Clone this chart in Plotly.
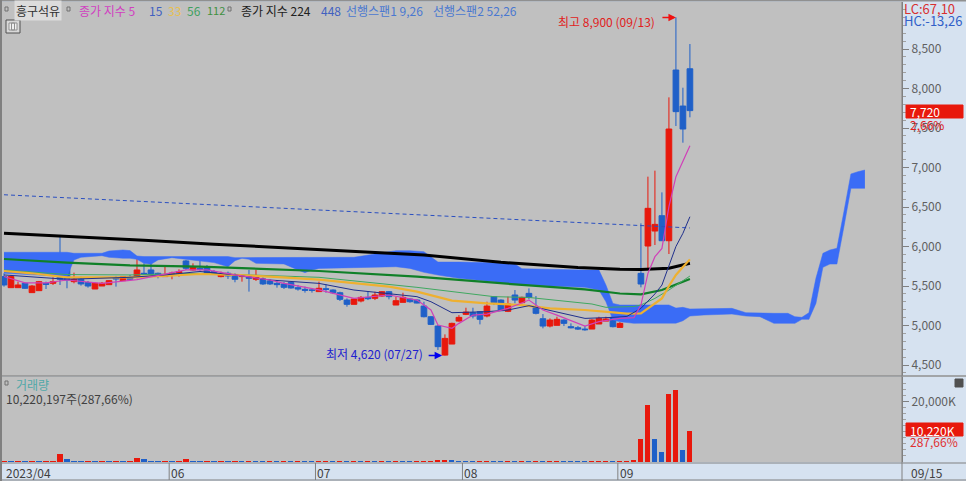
import plotly.graph_objects as go

W, H = 966, 481
FONT = "Noto Sans CJK KR"
RED, BLUE, CLOUD = "#e8180c", "#1f60c8", "#3a6cf6"
PANEL, SIDE = "#c0c0c0", "#d6e2f0"

n_candles = list(range(99))
opens = [5619,5479,5479,5534,5416,5441,5534,5534,5716,5830,5555,5585,5543,5462,5500,5517,5606,5568,5610,5619,
         5661,5703,5661,5619,5652,5661,5817,5703,5724,5745,5682,5619,5661,5627,5619,5619,5585,5589,5564,5534,
         5526,5543,5479,5458,5450,5429,5466,5449,5415,5322,5268,5310,5356,5344,5373,5428,5259,5293,5335,5322,
         5246,5111,4993,4625,4765,5056,5141,5162,5175,5120,5365,5322,5179,5386,5289,5407,5230,5086,4993,5002,
         5069,4985,4972,4955,4955,5019,5056,5103,4976,5099,5128,5660,6006,6196,6390,6073,8234,7778,8250]
highs = [5661,5640,5555,5543,5513,5564,5555,5610,6146,5851,5669,5619,5564,5543,5551,5576,5627,5619,5640,5872,
         5787,5787,5669,5745,5682,5711,5830,5787,5821,5766,5703,5682,5682,5661,5640,5703,5703,5610,5585,5568,
         5551,5555,5513,5492,5471,5555,5521,5457,5428,5343,5343,5373,5428,5428,5436,5436,5365,5415,5343,5331,
         5301,5120,5006,4888,5035,5132,5225,5225,5183,5301,5373,5331,5365,5449,5365,5470,5373,5145,5090,5111,
         5078,5027,4993,4993,5078,5111,5111,5120,5044,5259,5170,6293,6884,6960,6685,7888,8900,8010,8563]
lows = [5492,5479,5479,5462,5416,5441,5462,5513,5513,5471,5534,5505,5479,5462,5500,5517,5492,5568,5576,5597,
        5640,5640,5597,5619,5585,5619,5703,5695,5695,5652,5640,5610,5589,5547,5555,5429,5564,5513,5513,5479,
        5462,5467,5441,5416,5416,5429,5415,5398,5310,5238,5268,5293,5322,5322,5365,5331,5259,5293,5289,5280,
        5103,5006,4690,4620,4765,5048,5132,5090,5014,5103,5259,5183,5170,5280,5280,5331,5141,4964,4976,5002,
        4993,4964,4943,4934,4955,5019,5056,4976,4976,5090,5120,5483,5702,6019,6073,5905,7525,7314,7635]
closes = [5513,5619,5513,5471,5500,5555,5521,5555,5585,5576,5585,5526,5500,5534,5534,5568,5589,5619,5585,5703,
          5652,5652,5627,5635,5661,5682,5724,5745,5711,5669,5652,5648,5627,5585,5631,5597,5627,5526,5526,5517,
          5483,5475,5462,5446,5446,5471,5457,5415,5331,5268,5335,5356,5339,5386,5428,5365,5314,5356,5301,5284,
          5111,5014,4732,4837,5027,5103,5170,5120,5078,5246,5289,5187,5272,5322,5356,5356,5154,4993,5069,5078,
          5027,4972,4955,4947,5069,5090,5082,4985,5027,5145,5154,5525,6483,6280,6073,7487,7707,7487,7720]
volumes = [420,380,450,390,480,410,430,520,2750,880,450,400,430,390,460,420,480,400,450,1210,
           880,420,380,460,420,480,880,430,390,450,410,440,400,470,430,480,440,390,420,380,
           450,400,460,410,390,430,470,410,440,390,470,430,480,400,450,410,460,430,390,440,
           470,520,560,700,640,520,460,420,480,520,450,420,460,430,480,410,450,420,470,500,
           440,400,380,350,420,460,500,430,470,520,560,7590,18920,7590,3190,22440,23760,3960,10220]

cloud_n = [0,4,9,10,11,14,15,17,18,19,20,21,22,24,26,30,32,33,34,35,36,40,42,43,44,45,50,56,58,60,62,65,70,73,74,
           83,85,86,87,88,90,91,95,96,97,98,100,104,106,108,110,112,113,114,115,116,117,118,119,120,121,122,123]
cloud_upper = [5927,5927,5927,5914,5914,5914,5943,5956,5948,5880,5872,5872,5872,5880,5872,5872,5872,5859,5859,5859,
               5859,5859,5859,5859,5859,5863,5863,5947,5947,5934,5803,5803,5795,5778,5719,5702,5702,5512,5280,5259,
               5259,5260,5260,5220,5230,5209,5209,5217,5162,5154,5154,5154,5112,5103,5162,5597,5913,5956,5977,6441,
               6918,6947,6968]
cloud_lower = [5661,5640,5619,5830,5863,5884,5863,5851,5851,5838,5787,5775,5830,5859,5838,5796,5745,5821,5851,5838,
               5787,5779,5703,5669,5703,5723,5732,5744,5723,5673,5639,5597,5554,5521,5512,5483,5449,5301,5069,5048,
               5027,5030,5030,5030,5060,5120,5133,5145,5120,5112,5027,5027,5027,5078,5078,5280,5736,5778,5778,6251,
               6736,6736,6736]

ma5_n = [0,3,6,9,14,19,26,29,33,38,40,45,50,55,59,61,62,64,65,67,69,72,75,77,79,83,85,88,90,91,92,93,94,95,96,97,98]
ma5 = [5620,5540,5540,5576,5534,5580,5703,5703,5640,5576,5534,5450,5343,5386,5322,5196,5006,4964,5027,5132,5145,
       5217,5322,5196,5132,4993,5048,5090,5100,5259,5660,5871,5976,6504,6884,7080,7276]
ma15_n = [0,9,18,23,28,33,38,45,50,55,59,61,64,69,72,75,79,83,87,89,91,93,94,95,96,97,98]
ma15 = [5640,5585,5610,5640,5684,5640,5576,5533,5449,5407,5365,5301,5162,5175,5196,5251,5175,5090,5103,5115,5217,
        5400,5512,5744,6000,6167,6377]
ma33_n = [0,4,9,18,23,28,33,38,45,55,59,64,69,74,78,83,87,89,91,92,94,95,96,97,98]
ma33 = [5690,5661,5610,5610,5627,5652,5640,5619,5580,5491,5428,5314,5280,5259,5217,5196,5165,5150,5153,5217,5343,
        5500,5640,5740,5837]
ma56_n = [0,9,18,28,45,59,70,75,84,86,90,91,93,95,98]
ma56 = [5703,5645,5640,5661,5610,5483,5365,5355,5272,5230,5240,5260,5343,5449,5626]
ma112_n = [0,9,18,28,45,59,73,83,88,91,94,98]
ma112 = [5842,5796,5762,5745,5690,5618,5521,5457,5405,5394,5449,5588]
ma224_n = [0,10,20,30,45,60,71,82,88,91,95,98]
ma224 = [6167,6125,6080,6030,5965,5892,5800,5735,5712,5708,5725,5787]
ma448_n = [0,30,60,98]
ma448 = [6655,6525,6395,6235]

price_ticks = [4500,5000,5500,6000,6500,7000,7500,8000,8500]
month_n = [0,23.6,44.5,65.5,87.7]
month_labels = ["2023/04","06","07","08","09"]


def px(x, y):
    return dict(xref="paper", yref="paper", x=(x - 2) / 900, y=(462 - y) / 460)


def label(x, y, text, color, size=12, anchor="left", **kw):
    return dict(text=text, showarrow=False, xanchor=anchor, yanchor="middle",
                font=dict(family=FONT, size=size, color=color), **px(x, y), **kw)


def rect(x0, y0, x1, y1, fill=None, line="#808080", width=1):
    return dict(type="rect", xref="paper", yref="paper", x0=(x0 - 2) / 900, x1=(x1 - 2) / 900,
                y0=(462 - y0) / 460, y1=(462 - y1) / 460, fillcolor=fill or "rgba(0,0,0,0)",
                line=dict(color=line, width=width), layer="above")


fig = go.Figure()
fig.add_trace(go.Scatter(x=cloud_n, y=cloud_upper, mode="lines", line=dict(color=CLOUD, width=0.5), hoverinfo="skip"))
fig.add_trace(go.Scatter(x=cloud_n, y=cloud_lower, mode="lines", line=dict(color=CLOUD, width=0.5),
                         fill="tonexty", fillcolor=CLOUD, hoverinfo="skip"))
fig.add_trace(go.Scatter(x=ma448_n, y=ma448, mode="lines", line=dict(color="#2a4fc0", width=1, dash="4px,3px")))
fig.add_trace(go.Candlestick(x=n_candles, open=opens, high=highs, low=lows, close=closes, whiskerwidth=0,
                             increasing=dict(line=dict(color=RED, width=1), fillcolor=RED),
                             decreasing=dict(line=dict(color=BLUE, width=1), fillcolor=BLUE)))
for xs, ys, col, w in [(ma224_n, ma224, "#000000", 3), (ma112_n, ma112, "#108028", 2.2), (ma56_n, ma56, "#40a860", 1),
                       (ma33_n, ma33, "#eeb030", 2.2), (ma15_n, ma15, "#20308c", 1), (ma5_n, ma5, "#d040b8", 1.2)]:
    fig.add_trace(go.Scatter(x=xs, y=ys, mode="lines", line=dict(color=col, width=w)))
vol_colors = [RED if i == 0 or volumes[i] >= volumes[i - 1] else BLUE for i in range(len(volumes))]
fig.add_trace(go.Bar(x=n_candles, y=volumes, width=0.72, marker=dict(color=vol_colors, line=dict(width=0)),
                     xaxis="x", yaxis="y2"))

annotations = [
    label(14, 10, "흥구석유", "#303030", bgcolor="#dcdcdc"),
    label(77, 10, "종가 지수 5", "#d040c0"),
    label(147, 10, "15", "#4060c0"),
    label(166, 10, "33", "#e8c050"),
    label(185, 10, "56", "#40a060"),
    label(205, 10, "112", "#409040", size=11),
    label(239, 10, "종가 지수 224", "#202020"),
    label(319, 10, "448", "#4060c0"),
    label(344, 10, "선행스팬1 9,26", "#4a78d0"),
    label(431, 10, "선행스팬2 52,26", "#4a78d0"),
    label(556, 22, "최고 8,900 (09/13)", "#e02020"),
    label(324, 353, "최저 4,620 (07/27)", "#2020d0"),
    dict(x=96, y=8900, xref="x", yref="y", ax=-15, ay=0, text="", showarrow=True, arrowcolor="#f01010",
         arrowhead=2, arrowwidth=1.5),
    dict(x=62.6, y=4620, xref="x", yref="y", ax=-15, ay=0, text="", showarrow=True, arrowcolor="#0000f0",
         arrowhead=2, arrowwidth=1.5),
    label(902, 8, "LC:67,10", "#d83030", size=13),
    label(902, 20, "HC:-13,26", "#3060c8", size=13),
    label(908, 124, "2,66%", "#e02020", size=12),
    label(908, 441, "287,66%", "#e03030", size=12),
    label(14, 384, "거래량", "#50a8a8", size=12),
    label(4, 398, "10,220,197주(287,66%)", "#404040", size=12),
    label(909, 472, "09/15", "#404040", size=12),
]
for n, t in zip(month_n, month_labels):
    annotations.append(dict(text=t, x=n, xref="x", y=(462 - 472) / 460, yref="paper", xanchor="left", yanchor="middle",
                            showarrow=False, font=dict(family=FONT, size=12, color="#404040")))

shapes = [
    rect(906, 105, 963, 118, fill=RED, line=RED),
    rect(906, 423, 963, 436, fill=RED, line=RED),
    rect(955, 379, 963, 387, fill="#505050", line="#505050"),
    rect(6, 20, 20, 33, fill="#d8d8d8", line="#505050"),
    rect(9, 23, 17, 30, fill="#f0f0f0", line="#909090"),
    rect(11.5, 23, 14.5, 30, line="#909090"),
    rect(5, 7, 8, 11, line="#707070"),
    rect(67, 7, 70, 11, line="#707070"),
    rect(228, 7, 231, 11, line="#707070"),
    rect(5, 381, 8, 385, line="#707070"),
    dict(type="line", xref="paper", yref="paper", x0=-2 / 900, x1=964 / 900, y0=(462 - 376) / 460, y1=(462 - 376) / 460,
         line=dict(color="#909090", width=1.5), layer="above"),
    dict(type="line", xref="paper", yref="paper", x0=-2 / 900, x1=964 / 900, y0=(462 - 463) / 460, y1=(462 - 463) / 460,
         line=dict(color="#808080", width=1), layer="above"),
    dict(type="line", xref="paper", yref="paper", x0=-2 / 900, x1=964 / 900, y0=(462 - 480) / 460, y1=(462 - 480) / 460,
         line=dict(color="#808080", width=1), layer="above"),
    dict(type="line", xref="paper", yref="paper", x0=-2 / 900, x1=964 / 900, y0=(462 - 0.5) / 460, y1=(462 - 0.5) / 460,
         line=dict(color="#909090", width=2), layer="above"),
    dict(type="line", xref="paper", yref="paper", x0=-1 / 900, x1=-1 / 900, y0=(462 - 481) / 460, y1=(462 - 0) / 460,
         line=dict(color="#808080", width=2), layer="above"),
    dict(type="line", xref="paper", yref="paper", x0=1, x1=1, y0=(462 - 481) / 460, y1=1,
         line=dict(color="#808080", width=1), layer="above"),
]
for n in month_n[1:]:
    shapes.append(dict(type="line", xref="x", yref="paper", x0=n, x1=n, y0=(462 - 463) / 460, y1=(462 - 480) / 460,
                       line=dict(color="#808080", width=1), layer="above"))

annotations += [
    label(908, 112, "7,720", "#ffffff"),
    label(908, 430, "10,220K", "#ffffff"),
]

fig.update_layout(
    width=W, height=H, autosize=False, margin=dict(l=2, r=64, t=2, b=19, pad=0),
    paper_bgcolor=SIDE, plot_bgcolor=PANEL, showlegend=False, bargap=0, boxgap=0.1, boxgroupgap=0.1, hovermode=False,
    xaxis=dict(range=[-0.286, 128.3], domain=[0, 1], anchor="y2", showgrid=False, zeroline=False, showticklabels=False,
               ticks="", rangeslider=dict(visible=False)),
    yaxis=dict(domain=[0.187, 1], range=[4361, 9095], side="right", anchor="x", showgrid=False, zeroline=False,
               tickvals=price_ticks, tickformat=",", ticks="outside", ticklen=6, tickcolor="#808080",
               tickfont=dict(family=FONT, size=12, color="#606060"), showline=True, linecolor="#808080",
               minor=dict(dtick=100, ticks="outside", ticklen=3, tickcolor="#a0a0a0")),
    yaxis2=dict(domain=[0, 0.185], range=[0, 28050], side="right", anchor="x", showgrid=False, zeroline=False,
                tickvals=[20000], ticktext=["20,000K"], ticks="outside", ticklen=6, tickcolor="#808080",
                tickfont=dict(family=FONT, size=12, color="#606060"), showline=True, linecolor="#808080",
                minor=dict(tickvals=list(range(2000, 28000, 2000)), ticks="outside", ticklen=3, tickcolor="#a0a0a0")),
    annotations=annotations, shapes=shapes,
)
fig.write_html("out.html", config=dict(displayModeBar=False),
               post_script="document.body.style.margin='0';document.documentElement.style.overflow='hidden';")
